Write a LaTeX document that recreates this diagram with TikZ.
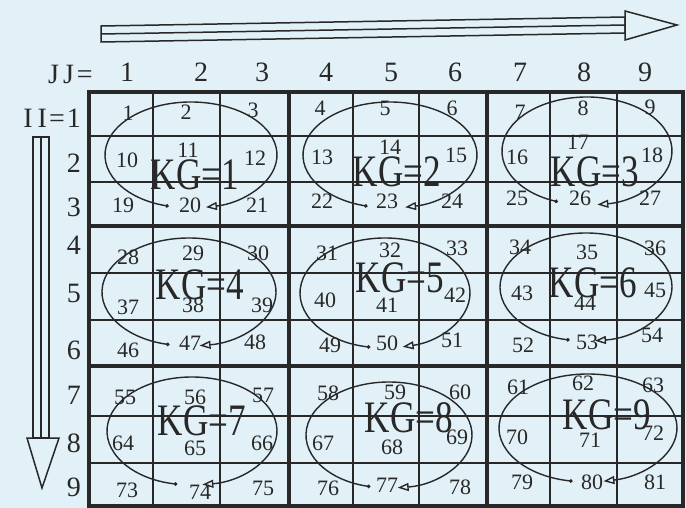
\documentclass[tikz,border=0pt]{standalone}
\usepackage{fontspec}
\usepackage{graphicx}
\setmainfont{Liberation Serif}
\usetikzlibrary{arrows.meta}
\definecolor{bg}{RGB}{226,241,247}
\definecolor{ink}{RGB}{40,40,40}
\newcommand\ellarc[6]{\draw[ellarr,shift={(#1,#2)}] ({#3*cos(#5)},{-#4*sin(#5)}) arc[start angle=#5,end angle=#6,x radius=#3pt,y radius=#4pt];}
\begin{document}
\begin{tikzpicture}[x=1pt,y=-1pt,
  num/.style={font=\fontsize{22}{22}\selectfont, text=ink, inner sep=0pt},
  lab/.style={font=\fontsize{28}{28}\selectfont, text=ink, inner sep=0pt},
  kg/.style={font=\fontsize{45}{45}\selectfont, text=ink, inner sep=0pt},
  gridthin/.style={draw=ink, line width=1.8pt},
  gridthick/.style={draw=ink, line width=3.6pt},
  ellarr/.style={draw=ink, line width=1.4pt, {Circle[length=3.5pt]}-{Triangle[open,length=11pt,width=8pt]}},
  bigarrow/.style={draw=ink, line width=1.5pt, line join=miter}]
\fill[bg] (0,0) rectangle (686,508);
\useasboundingbox (0,0) rectangle (686,508);
% grid
\foreach \x in {153,220,353,419,550,617} \draw[gridthin] (\x,92) -- (\x,506);
\foreach \y in {136,182,273,320,416,463} \draw[gridthin] (89,\y) -- (683,\y);
\foreach \x in {289,487} \draw[gridthick] (\x,92) -- (\x,506);
\foreach \y in {226,366} \draw[gridthick] (89,\y) -- (683,\y);
\draw[gridthick] (89,92) rectangle (683,506);
% top arrow
\draw[bigarrow] (101,26) -- (625,17) -- (625,33) -- (101,42) -- cycle;
\draw[bigarrow] (101,34) -- (625,25);
\draw[bigarrow] (625,11) -- (677,25) -- (625,40) -- cycle;
% left arrow
\draw[bigarrow] (33,137) -- (49,137) -- (49,438) -- (33,438) -- cycle;
\draw[bigarrow] (41,137) -- (41,438);
\draw[bigarrow] (27,438) -- (59,438) -- (42,488) -- cycle;
% labels
\node[lab, anchor=west] (jj) at (48,74) {J\kern4pt J\kern3pt=};
\foreach \j/\x in {1/127,2/201,3/262,4/326,5/391,6/455,7/520,8/584,9/645}
  \node[lab] (col\j) at (\x,72) {\j};
\node[lab, anchor=east] (row1) at (81,118) {I\kern5pt I\kern2pt=\kern2pt1};
\foreach \i/\y in {2/163,3/207,4/245,5/293,6/350,7/395,8/443,9/487}
  \node[lab, anchor=east] (row\i) at (81,\y) {\i};
% ellipses
\ellarc{191}{155}{86}{53}{255}{-80}
\ellarc{390}{155}{87}{53}{255}{-80}
\ellarc{587}{151}{85}{54}{250}{-83}
\ellarc{189}{292}{87}{54}{257}{-83}
\ellarc{385}{293}{85}{55}{260}{-78}
\ellarc{586}{287}{86}{54}{259}{-84}
\ellarc{192}{431}{85}{54}{260}{-83}
\ellarc{389}{435}{83}{53}{257}{-84}
\ellarc{588}{428}{89}{54}{260}{-80}
% cell numbers
\foreach \n/\x/\y in {
 1/128/113, 2/186/112, 3/253/110, 10/127/160, 11/188/150, 12/255/158, 19/123/205, 20/190/205, 21/257/205,
 4/320/108, 5/385/108, 6/452/108, 13/322/157, 14/390/147, 15/456/155, 22/322/201, 23/387/201, 24/452/201,
 7/520/112, 8/583/108, 9/650/107, 16/517/157, 17/578/142, 18/652/155, 25/517/198, 26/580/198, 27/650/198,
 28/128/257, 29/193/253, 30/258/253, 37/128/307, 38/193/305, 39/262/305, 46/128/350, 47/190/343, 48/255/342,
 31/327/253, 32/390/250, 33/457/248, 40/325/300, 41/387/305, 42/455/295, 49/330/345, 50/387/343, 51/452/340,
 34/520/247, 35/587/252, 36/655/248, 43/522/293, 44/585/303, 45/655/290, 52/523/345, 53/587/342, 54/652/335,
 55/125/397, 56/195/397, 57/263/395, 64/123/443, 65/195/448, 66/262/443, 73/127/490, 74/200/492, 75/263/488,
 58/328/393, 59/395/392, 60/460/392, 67/323/443, 68/392/447, 69/457/437, 76/328/488, 77/387/485, 78/460/487,
 61/518/387, 62/583/383, 63/653/385, 70/517/437, 71/590/440, 72/653/433, 79/522/482, 80/592/482, 81/655/482}
  \node[num] (c\n) at (\x,\y) {\n};
% block labels
\foreach \k/\x/\y in {1/195/175, 2/397/172, 3/595/172, 4/200/285, 5/400/278, 6/593/283, 7/202/421, 8/409/418, 9/607/415}
  \node[kg] (kg\k) at (\x,\y) {\scalebox{0.78}[1]{KG=\k}};
\end{tikzpicture}
\end{document}
